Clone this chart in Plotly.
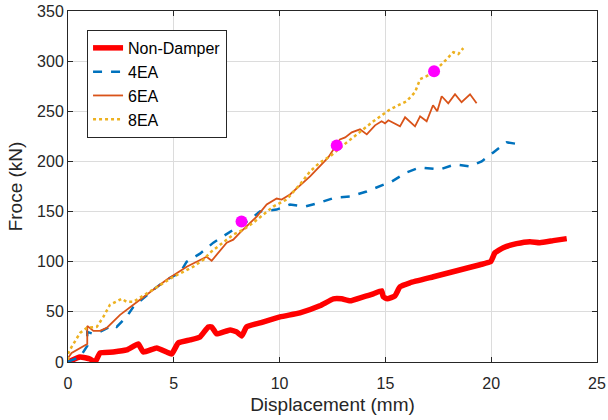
import plotly.graph_objects as go

# Non-Damper
nd_x = [0, 0.57, 1.04, 1.28, 1.51, 2.14, 2.77, 3.32, 3.56, 4.19, 4.66, 4.9, 5.21, 5.77, 6.24, 6.63, 6.79, 7.03, 7.66, 7.97, 8.21, 8.44, 9.07, 10.02, 10.96, 11.9, 12.54, 12.93, 13.33, 13.96, 14.43, 14.82, 14.9, 15.09, 15.45, 15.69, 16.16, 17.27, 18.37, 19.47, 19.97, 20.18, 20.57, 21.2, 21.83, 22.3, 22.93, 23.57]
nd_y = [0, 5, 3, 0, 9, 10, 12, 18, 10, 14, 10, 8, 19, 22, 25, 35, 35, 28, 32, 30, 26, 35, 39, 45, 49, 56, 63, 63, 61, 65, 68, 71, 65, 63, 66, 75, 79, 85, 91, 97, 100, 109, 114, 118, 120, 119, 121, 123]

# 4EA
e4_x = [0, 0.08, 0.57, 0.91, 0.91, 1.2, 1.51, 2.14, 2.3, 2.77, 3.09, 3.56, 4.03, 4.66, 5.29, 5.61, 6.24, 6.87, 7.5, 7.97, 8.6, 9.07, 9.86, 10.49, 11.2, 11.91, 12.62, 13.33, 14.11, 14.74, 15.3, 16.0, 16.63, 17.58, 18.29, 19.0, 19.55, 20.1, 20.73, 21.36, 21.52]
e4_y = [0, 1, 5, 16, 30, 28, 30, 37, 35, 45, 55, 64, 72, 82, 89, 100, 108, 119, 128, 134, 142, 150, 152, 157, 155, 159, 164, 165, 170, 175, 180, 189, 194, 192, 197, 195, 200, 209, 219, 217, 219]

# 6EA
e6_x = [0, 0.17, 0.91, 0.91, 1.2, 1.51, 1.83, 2.46, 3.4, 4.66, 5.61, 6.55, 6.79, 7.03, 7.5, 7.81, 8.13, 8.92, 9.39, 9.86, 10.1, 10.49, 11.44, 12.3, 12.6, 12.85, 13.1, 13.41, 13.8, 14.12, 14.51, 14.82, 14.98, 15.14, 15.69, 15.93, 16.4, 16.64, 16.95, 17.25, 17.45, 17.66, 17.97, 18.29, 18.6, 19.0, 19.31]
e6_y = [4, 9, 18, 36, 31, 31, 34, 47, 62, 82, 95, 105, 101, 107, 119, 122, 129, 145, 157, 163, 162, 167, 185, 204, 214, 222, 224, 229, 232, 227, 236, 240, 238, 241, 235, 244, 235, 245, 240, 256, 250, 265, 258, 267, 259, 267, 258]

# 8EA
e8_x = [0, 0.02, 0.17, 0.57, 0.88, 1.36, 1.67, 1.98, 2.54, 2.77, 3.09, 4.03, 4.98, 5.92, 6.4, 6.71, 7.18, 7.81, 8.29, 8.76, 9.7, 10.33, 10.96, 11.44, 11.91, 12.38, 13.0, 13.48, 14.43, 15.22, 16.0, 16.4, 16.64, 16.95, 17.42, 17.9, 18.21, 18.45, 18.68]
e8_y = [2, 9, 15, 29, 34, 35, 45, 57, 63, 60, 60, 72, 85, 95, 102, 109, 117, 127, 132, 139, 155, 162, 177, 190, 199, 205, 216, 224, 240, 252, 260, 269, 282, 285, 292, 302, 309, 307, 313]

# Highlight points
pt_x = [8.2, 12.7, 17.3]
pt_y = [140, 216, 290]

x_ticks = [0, 5, 10, 15, 20, 25]
y_ticks = [0, 50, 100, 150, 200, 250, 300, 350]

fig = go.Figure()
fig.add_trace(go.Scatter(x=nd_x, y=nd_y, mode="lines", name="Non-Damper",
                         line=dict(color="#FF0000", width=5.5, shape="spline", smoothing=0.4)))
fig.add_trace(go.Scatter(x=e4_x, y=e4_y, mode="lines", name="4EA",
                         line=dict(color="#0072BD", width=2.5, dash="dash")))
fig.add_trace(go.Scatter(x=e6_x, y=e6_y, mode="lines", name="6EA",
                         line=dict(color="#D95319", width=1.8)))
fig.add_trace(go.Scatter(x=e8_x, y=e8_y, mode="lines", name="8EA",
                         line=dict(color="#EDB120", width=2.5, dash="dot")))
fig.add_trace(go.Scatter(x=pt_x, y=pt_y, mode="markers", showlegend=False,
                         marker=dict(color="#FF00FF", size=12)))

axis_common = dict(showgrid=True, gridcolor="#DCDCDC", gridwidth=1,
                   showline=True, linecolor="#262626", linewidth=1, mirror="ticks",
                   ticks="inside", ticklen=5, tickcolor="#262626", zeroline=False,
                   automargin=False,
                   tickfont=dict(size=16, color="#262626"))

fig.update_layout(
    width=608, height=420,
    margin=dict(l=68, r=11, t=11, b=58),
    paper_bgcolor="white", plot_bgcolor="white",
    font=dict(family="Liberation Sans, Arial, sans-serif", color="#262626"),
    xaxis=dict(range=[0, 25], tickvals=x_ticks, ticklabelstandoff=7,
               title=dict(text="Displacement (mm)", font=dict(size=19), standoff=6), **axis_common),
    yaxis=dict(range=[0, 350], tickvals=y_ticks,
               title=dict(text="Froce (kN)", font=dict(size=19), standoff=9), **axis_common),
    legend=dict(x=0.036, y=0.946, xanchor="left", yanchor="top",
                bgcolor="white", bordercolor="#262626", borderwidth=1,
                font=dict(size=16, color="#000000"), tracegroupgap=0),
    showlegend=True,
)

# remove the default 8px body margin so the figure fills the window exactly
fig.write_html("out.html", config={"displayModeBar": False},
               post_script="document.body.style.margin='0';")
